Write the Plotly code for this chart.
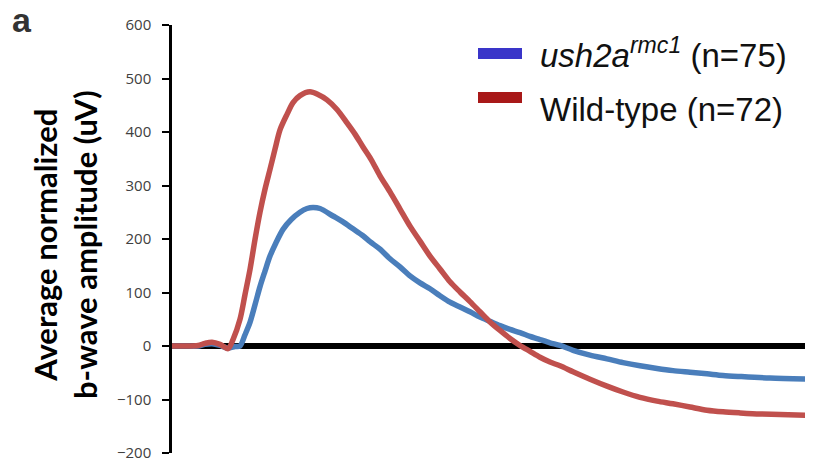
import plotly.graph_objects as go

# ---- data (time offset in arbitrary units, amplitude in uV) ----
wt_time = [0, 13, 26, 33, 40, 48, 56, 61, 68, 73, 78, 83, 88, 93, 98, 103, 108, 115, 121, 128,
           138, 146, 155, 165, 175, 183, 191, 199, 208, 218, 228, 238, 248, 258, 268, 278, 288,
           298, 308, 318, 328, 338, 348, 358, 368, 378, 388, 401, 418, 435, 451, 468, 485, 501,
           518, 535, 551, 568, 588, 608, 638]
wt_amp = [0, 0, 1, 5, 7, 3, -5, 12, 50, 96, 143, 199, 250, 293, 330, 368, 404, 433, 455, 468,
          475, 470, 460, 442, 417, 396, 372, 349, 318, 288, 256, 224, 196, 168, 144, 120, 101,
          83, 64, 45, 29, 14, 1, -10, -21, -30, -37, -48, -62, -75, -86, -96, -103, -108,
          -114, -120, -123, -125, -127, -128, -130]

mut_time = [0, 13, 26, 33, 40, 48, 56, 63, 68, 73, 78, 83, 88, 93, 98, 104, 111, 119, 128, 135,
            141, 148, 161, 171, 181, 191, 198, 208, 218, 228, 238, 248, 258, 268, 278, 288, 298,
            308, 318, 328, 338, 348, 358, 368, 378, 388, 401, 418, 435, 451, 468, 485, 501, 518,
            535, 551, 568, 598, 638]
mut_amp = [0, 0, 0, 3, 4, 1, -4, -1, 0, 21, 44, 77, 111, 140, 168, 193, 218, 236, 250, 257,
           259, 257, 243, 232, 219, 206, 195, 181, 163, 148, 131, 118, 107, 94, 82, 73, 64, 54,
           46, 38, 31, 25, 18, 12, 6, 1, -8, -17, -24, -31, -37, -42, -46, -49, -52, -55, -57,
           -60, -62]

y_ticks = [-200, -100, 0, 100, 200, 300, 400, 500, 600]
legend_labels = ["<i>ush2a<sup>rmc1</sup></i> (n=75)", "Wild-type (n=72)"]
legend_colors = ["#3a35c9", "#a81818"]

# ---- layout geometry (pixels); page body has an 8px margin ----
OFF = 8
W, H = 813 - OFF, 463 - OFF
L, R, T, B = 172 - OFF, 0, 25 - OFF, 10
PW, PH = W - L - R, H - T - B


def px(x):
    return (x - OFF - L) / PW


def py(y):
    return (H - B - (y - OFF)) / PH


fig = go.Figure()
fig.add_trace(go.Scatter(x=mut_time, y=mut_amp, mode="lines",
                         line=dict(color="#4a7ebb", width=5.5, shape="spline", smoothing=0.8),
                         hoverinfo="skip", showlegend=False))
fig.add_trace(go.Scatter(x=wt_time, y=wt_amp, mode="lines",
                         line=dict(color="#c0504d", width=5.5, shape="spline", smoothing=0.8),
                         hoverinfo="skip", showlegend=False))

# manual legend
shapes = []
annotations = []
rect_y = [(48, 59), (92, 103)]
text_y = [53, 109]
for lab, col, (y0, y1), ty in zip(legend_labels, legend_colors, rect_y, text_y):
    shapes.append(dict(type="rect", xref="paper", yref="paper",
                       x0=px(478), x1=px(522), y0=py(y1), y1=py(y0),
                       fillcolor=col, line=dict(width=0)))
    annotations.append(dict(text=lab, xref="paper", yref="paper", x=px(538), y=py(ty),
                            xanchor="left", yanchor="middle", showarrow=False,
                            font=dict(family="Liberation Sans", size=33, color="#111111")))

# y-axis title
annotations.append(dict(text="Average normalized<br>b-wave amplitude (uV)", xref="paper", yref="paper",
                        x=px(65), y=py(244), xanchor="center", yanchor="middle", textangle=-90,
                        showarrow=False,
                        font=dict(family="Lato", size=31, color="#000000", weight="bold")))
# panel label
annotations.append(dict(text="<b>a</b>", xref="paper", yref="paper", x=px(10), y=py(20),
                        xanchor="left", yanchor="middle", showarrow=False,
                        font=dict(family="Liberation Sans", size=34, color="#333333")))

fig.update_layout(
    width=W, height=H,
    margin=dict(l=L, r=R, t=T, b=B),
    paper_bgcolor="white", plot_bgcolor="white",
    shapes=shapes, annotations=annotations,
    xaxis=dict(range=[0, 641], visible=False, showgrid=False, zeroline=False),
    yaxis=dict(range=[-200, 600], tickvals=y_ticks, showgrid=False,
               zeroline=True, zerolinecolor="black", zerolinewidth=6,
               showline=True, linecolor="black", linewidth=2.5,
               ticks="outside", ticklen=7, tickwidth=2, tickcolor="black",
               ticklabelstandoff=8,
               tickfont=dict(family="Open Sans", size=15, color="#404040")),
)

fig.write_html("out.html")
